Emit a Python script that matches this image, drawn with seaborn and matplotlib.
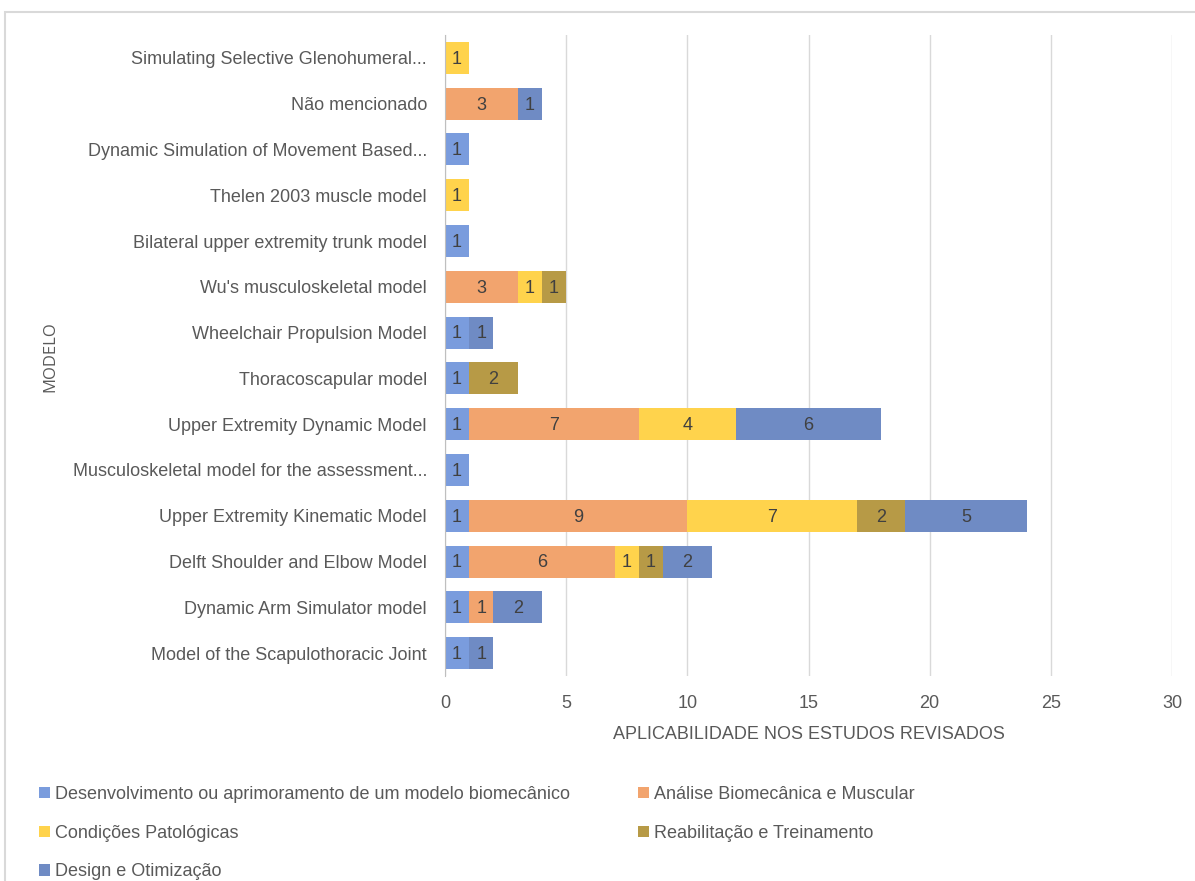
import matplotlib
matplotlib.use("Agg")
import matplotlib.pyplot as plt
import seaborn as sns
import numpy as np
import pandas as pd
from matplotlib.patches import Rectangle, Patch

models = [
    "Simulating Selective Glenohumeral...",
    "Não mencionado",
    "Dynamic Simulation of Movement Based...",
    "Thelen 2003 muscle model",
    "Bilateral upper extremity trunk model",
    "Wu's musculoskeletal model",
    "Wheelchair Propulsion Model",
    "Thoracoscapular model",
    "Upper Extremity Dynamic Model",
    "Musculoskeletal model for the assessment...",
    "Upper Extremity Kinematic Model",
    "Delft Shoulder and Elbow Model",
    "Dynamic Arm Simulator model",
    "Model of the Scapulothoracic Joint",
]
series_names = [
    "Desenvolvimento ou aprimoramento de um modelo biomecânico",
    "Análise Biomecânica e Muscular",
    "Condições Patológicas",
    "Reabilitação e Treinamento",
    "Design e Otimização",
]
desenvolvimento = [0, 0, 1, 0, 1, 0, 1, 1, 1, 1, 1, 1, 1, 1]
analise =         [0, 3, 0, 0, 0, 3, 0, 0, 7, 0, 9, 6, 1, 0]
patologicas =     [1, 0, 0, 1, 0, 1, 0, 0, 4, 0, 7, 1, 0, 0]
reabilitacao =    [0, 0, 0, 0, 0, 1, 0, 2, 0, 0, 2, 1, 0, 0]
design =          [0, 1, 0, 0, 0, 0, 1, 0, 6, 0, 5, 2, 2, 1]
colors = ["#7A9CDD", "#F2A46E", "#FFD34C", "#B79A46", "#6F8BC4"]

series = [desenvolvimento, analise, patologicas, reabilitacao, design]

plt.rcParams['font.family'] = ['Liberation Sans', 'DejaVu Sans']

fig = plt.figure(figsize=(11.95, 8.81), dpi=100)
ax = fig.add_axes([445/1195, 1-676/881, (1172-445)/1195, (676-35)/881])

vals = np.array(series, dtype=float)
cum = np.cumsum(vals, axis=0)

# draw from the full stack down so shorter cumulative bars cover the longer ones
for k in range(len(series) - 1, -1, -1):
    df = pd.DataFrame({"modelo": models, "valor": cum[k]})
    sns.barplot(data=df, y="modelo", x="valor", order=models, orient="h",
                color=colors[k], saturation=1, width=0.7, ax=ax,
                linewidth=0, edgecolor="none")

# value labels
for k in range(len(series)):
    start = cum[k] - vals[k]
    for i, m in enumerate(models):
        v = vals[k][i]
        if v > 0:
            ax.text(start[i] + v / 2, i + 0.03, f"{int(v)}", ha="center", va="center",
                    fontsize=13, color="#404040")

ax.set_xlim(0, 30)
ax.set_ylim(13.5, -0.5)
ax.set_xticks(range(0, 31, 5))
ax.xaxis.grid(True, color="#D9D9D9", linewidth=1)
ax.set_axisbelow(True)
for s in ["top", "right", "bottom"]:
    ax.spines[s].set_visible(False)
ax.spines["left"].set_color("#BFBFBF")
ax.tick_params(axis="both", length=0, labelsize=13, colors="#595959")
ax.tick_params(axis="x", pad=14)
ax.tick_params(axis="y", pad=13)
ax.set_ylabel("")
ax.set_xlabel("APLICABILIDADE NOS ESTUDOS REVISADOS", fontsize=13, color="#595959", labelpad=10)
fig.text(50/1195, 1-357/881, "MODELO", rotation=90, ha="center", va="center",
         fontsize=12, color="#595959", family=["Open Sans", "DejaVu Sans"])

handles = [Patch(facecolor=c, edgecolor="none") for c in colors]
order = [0, 2, 4, 1, 3]
fig.legend([handles[i] for i in order], [series_names[i] for i in order],
           ncol=2, loc="upper left", bbox_to_anchor=(39/1195, 1-786/881),
           frameon=False, fontsize=13, labelcolor="#595959",
           handlelength=0.6, handleheight=0.6, handletextpad=0.3,
           columnspacing=3.75, labelspacing=1.2, borderaxespad=0, borderpad=0)

fig.patches.append(Rectangle((5/1195, -0.1), 1.2, 1-12/881 + 0.1, transform=fig.transFigure,
                             fill=False, edgecolor="#D9D9D9", linewidth=1.5))

fig.savefig("out.png", dpi=100, facecolor="white")
